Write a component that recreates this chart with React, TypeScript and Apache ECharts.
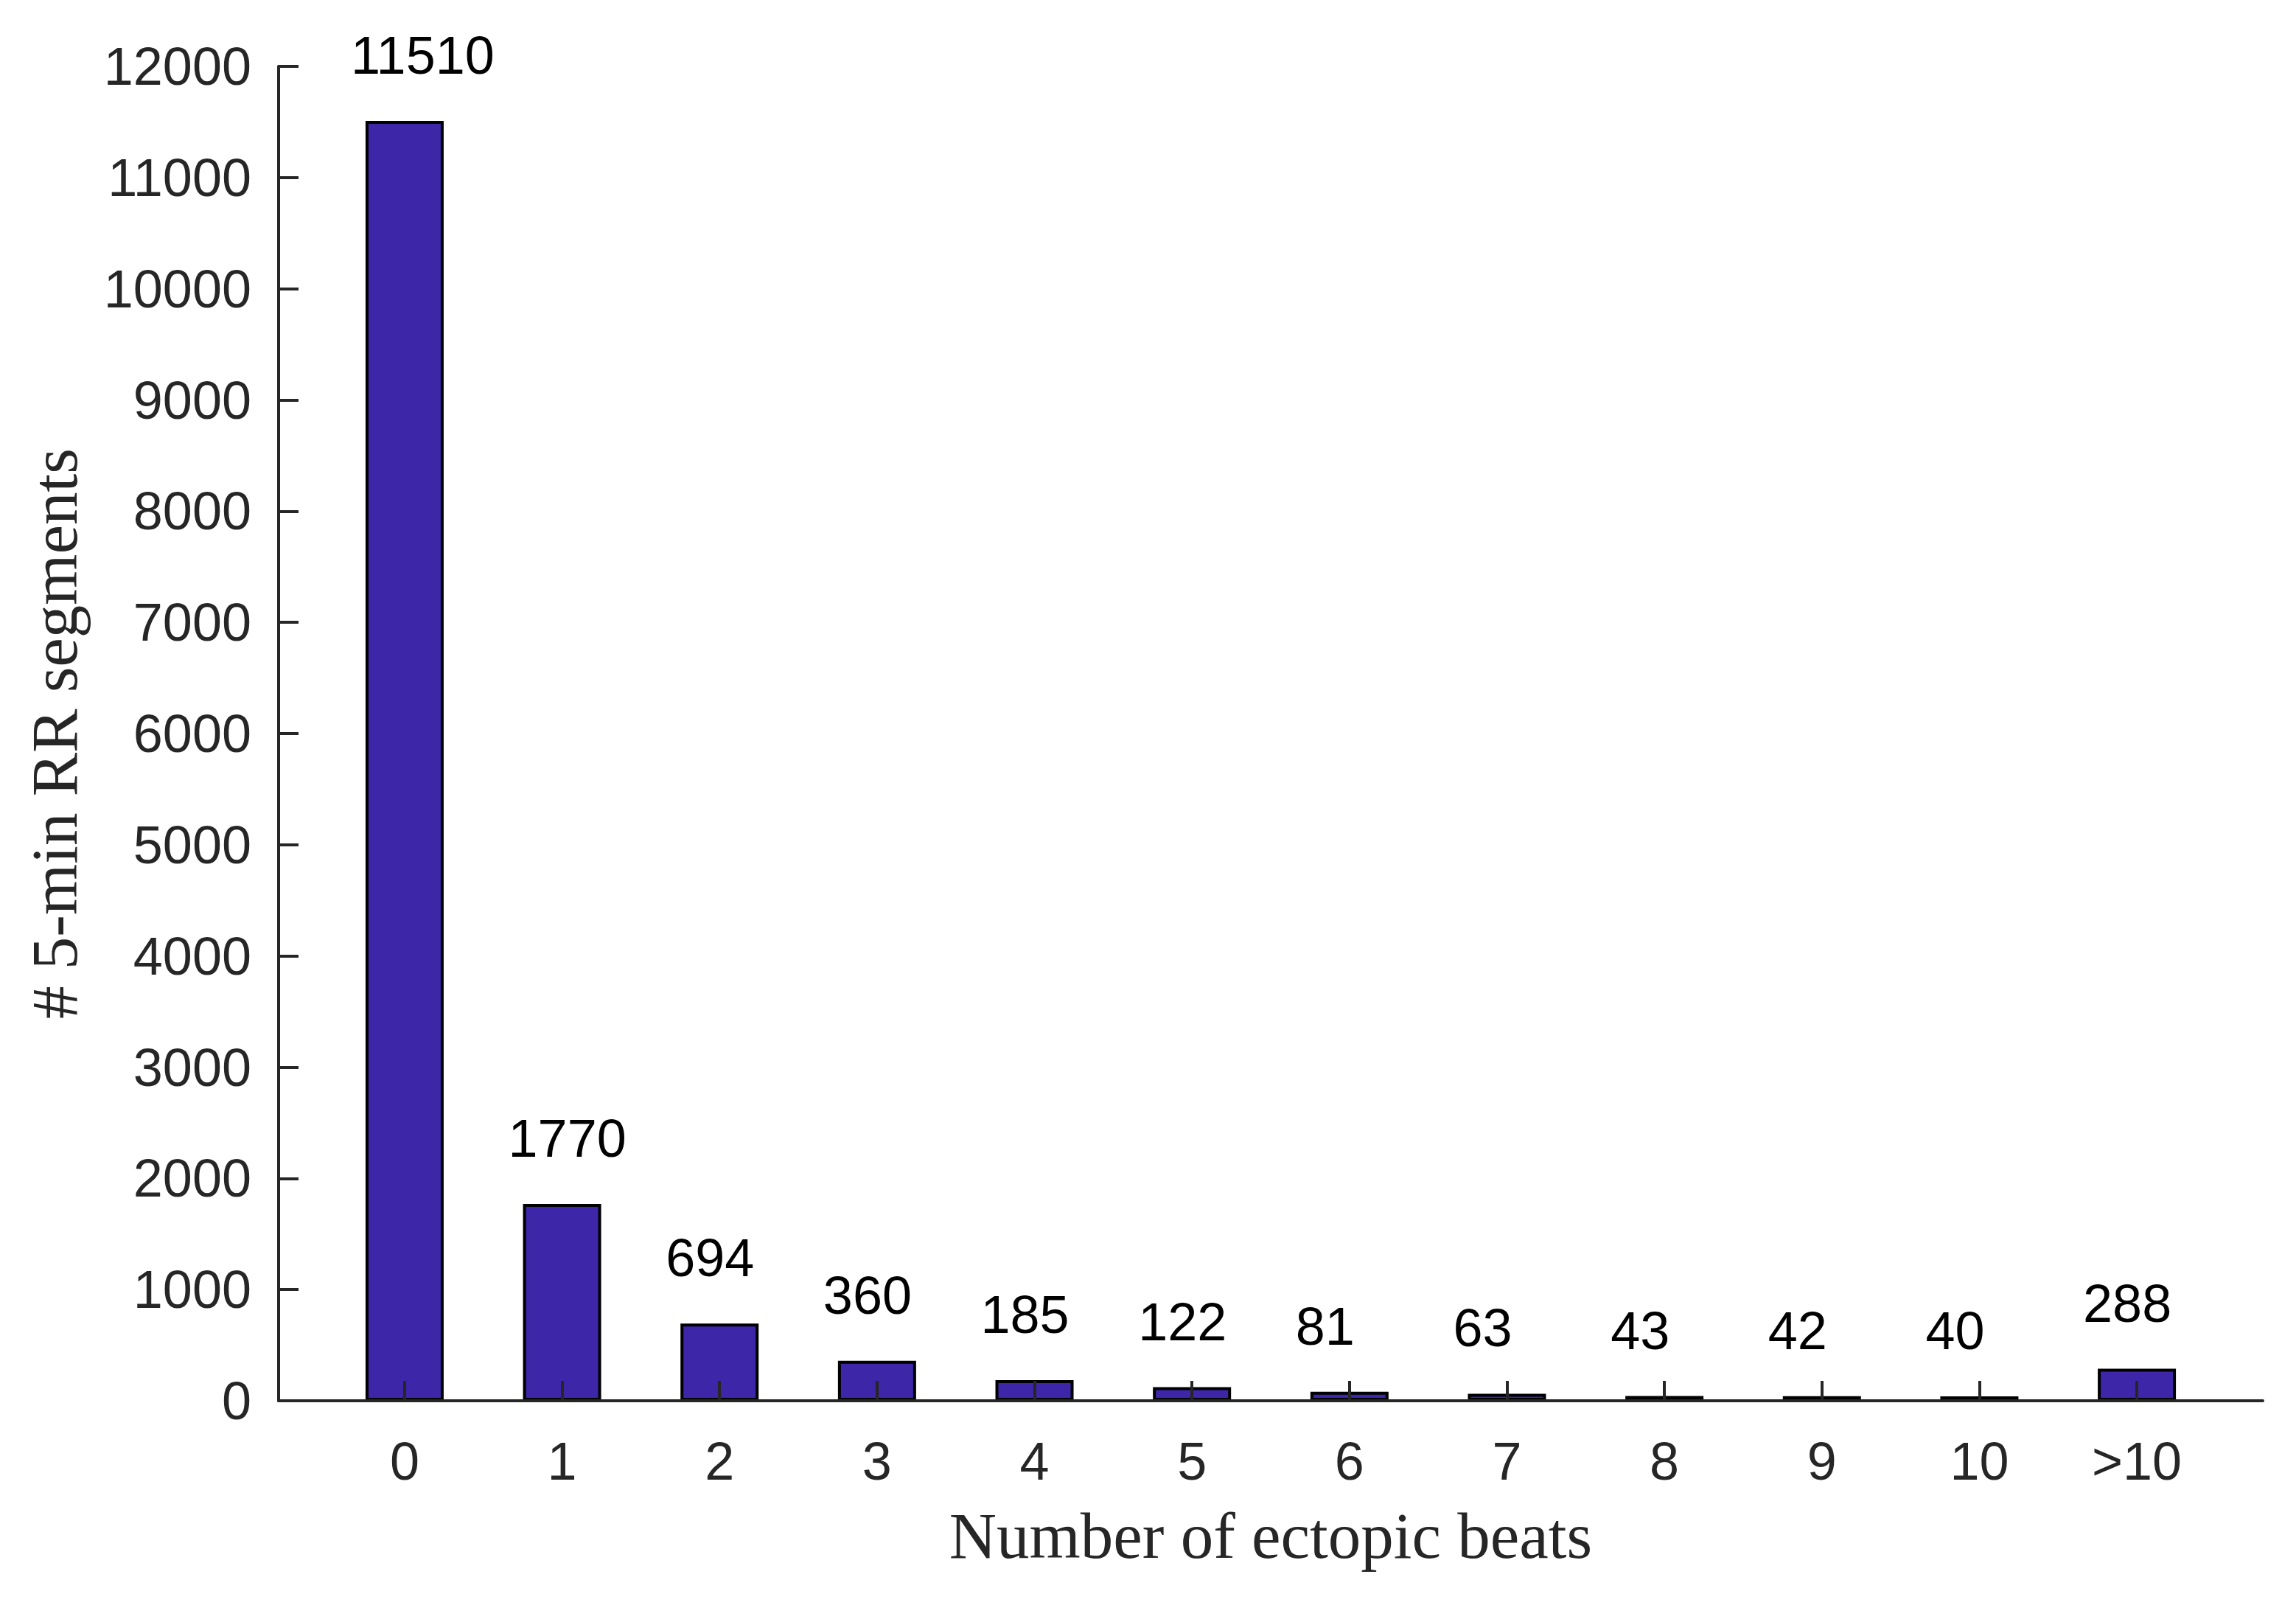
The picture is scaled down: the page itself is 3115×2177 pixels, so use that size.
import React, { useEffect, useRef } from "react";
import * as echarts from "echarts";

const categories = ["0", "1", "2", "3", "4", "5", "6", "7", "8", "9", "10", ">10"];
const xPositions = [0, 1, 2, 3, 4, 5, 6, 7, 8, 9, 10, 11];
const counts = [11510, 1770, 694, 360, 185, 122, 81, 63, 43, 42, 40, 288];

const AXIS_COLOR = "#262626";

export default function App() {
  const ref = useRef<HTMLDivElement>(null);
  useEffect(() => {
    document.body.style.margin = "0";
    const chart = echarts.init(ref.current as HTMLDivElement, null, { renderer: "svg" });
    chart.setOption({
      animation: false,
      backgroundColor: "#ffffff",
      grid: { left: 378, right: 45, top: 90, bottom: 277, containLabel: false },
      xAxis: {
        type: "value",
        min: -0.8,
        max: 11.8,
        z: 5,
        axisLine: { show: true, onZero: false, lineStyle: { color: AXIS_COLOR, width: 4 } },
        axisTick: {
          show: true,
          inside: true,
          length: 27,
          customValues: xPositions,
          lineStyle: { color: AXIS_COLOR, width: 4 },
        },
        axisLabel: {
          customValues: xPositions,
          formatter: (v: number) => categories[Math.round(v)],
          fontSize: 72,
          color: AXIS_COLOR,
          fontFamily: "Liberation Sans",
          margin: 46,
        },
        splitLine: { show: false },
        name: "Number of ectopic beats",
        nameLocation: "middle",
        nameGap: 138,
        nameTextStyle: { fontFamily: "Liberation Serif", fontSize: 89, color: AXIS_COLOR },
      },
      yAxis: {
        type: "value",
        min: 0,
        max: 12000,
        interval: 1000,
        z: 5,
        axisLine: { show: true, onZero: false, lineStyle: { color: AXIS_COLOR, width: 4 } },
        axisTick: { show: true, inside: true, length: 27, lineStyle: { color: AXIS_COLOR, width: 4 } },
        axisLabel: {
          fontSize: 72,
          color: AXIS_COLOR,
          fontFamily: "Liberation Sans",
          margin: 37,
          formatter: (v: number) => String(v),
        },
        splitLine: { show: false },
        name: "# 5-min RR segments",
        nameLocation: "middle",
        nameGap: 260,
        nameTextStyle: { fontFamily: "Liberation Serif", fontSize: 89, color: AXIS_COLOR },
      },
      series: [
        {
          type: "bar",
          data: xPositions.map((x, i) => [x, counts[i]]),
          barWidth: 106,
          itemStyle: { color: "#3E26A8", borderColor: "#000000", borderWidth: 4 },
          label: {
            show: true,
            position: "top",
            align: "left",
            offset: [-73, 0],
            distance: 53,
            fontSize: 72,
            color: "#000000",
            fontFamily: "Liberation Sans",
            formatter: (p: any) => String(counts[p.dataIndex]),
          },
        },
      ],
    });
    return () => chart.dispose();
  }, []);
  return <div ref={ref} style={{ width: 3115, height: 2177 }} />;
}
